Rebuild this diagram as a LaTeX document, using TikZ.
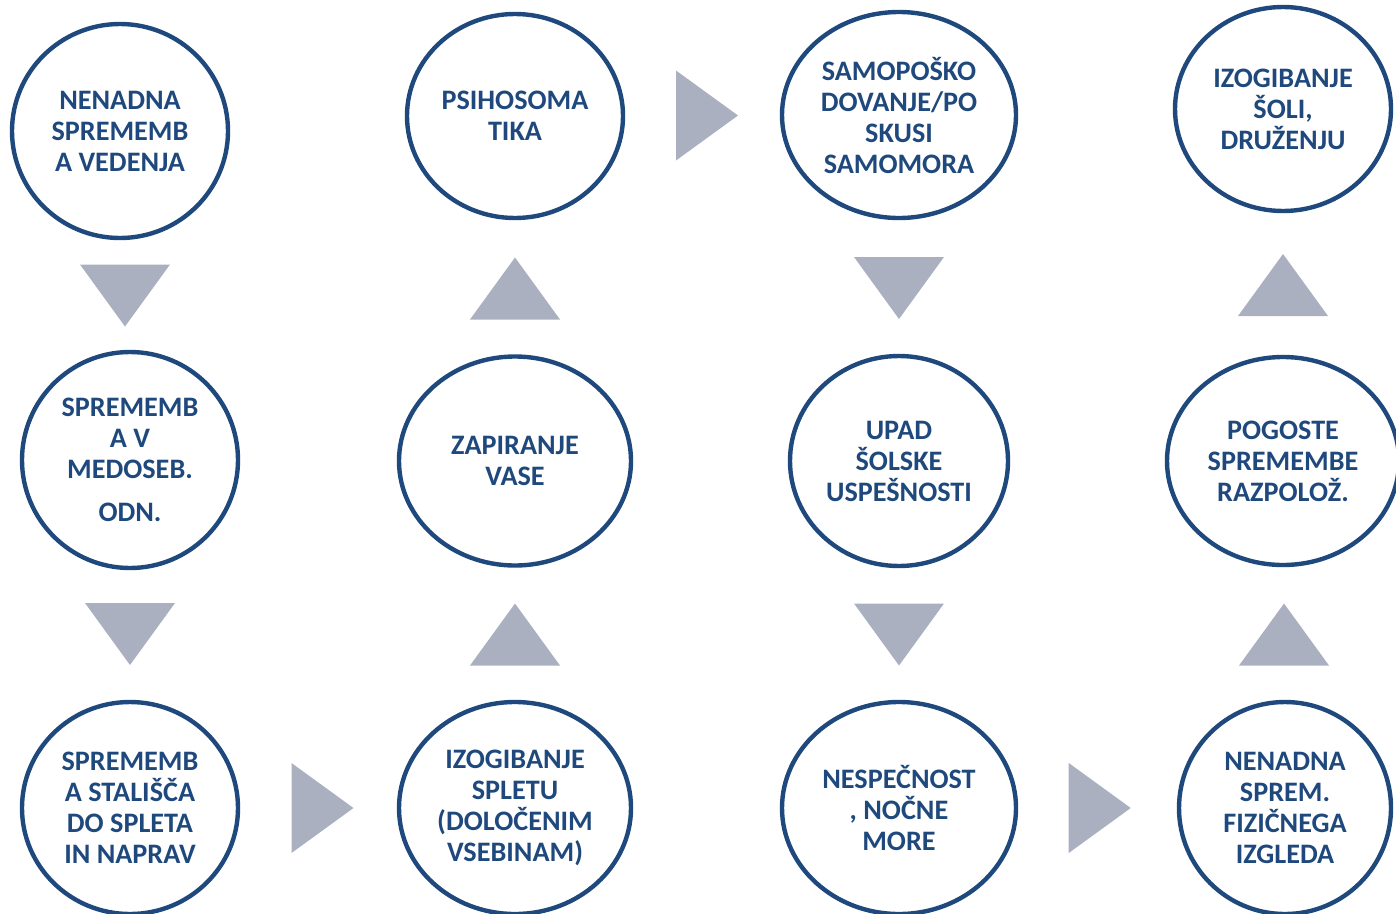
\documentclass[tikz,border=0pt]{standalone}
\usepackage{fontspec}
\setmainfont{Carlito}
\usetikzlibrary{shapes.geometric,calc}
\definecolor{modra}{RGB}{31,73,125}
\definecolor{siva}{RGB}{171,176,193}

\begin{document}
\begin{tikzpicture}[x=1pt, y=-1pt,
		krog/.style 2 args = {shape=ellipse, draw=modra, line width=4.4pt, minimum width=#1pt, minimum height=#2pt,
			inner sep=0pt, align=center, text=modra, font=\fontsize{28.2}{31}\selectfont\bfseries},
		tri/.pic = {\fill[siva] (-31,-45) -- (31,0) -- (-31,45) -- cycle;}]
		\useasboundingbox (0,0) rectangle (1396,913);
		\node[krog={216}{214}] (a1) at (120,131) {NENADNA\\SPREMEMB\\A VEDENJA};
		\node[krog={216}{216}] (a2) at (130,460) {SPREMEMB\\A V\\MEDOSEB.\\[12pt]ODN.};
		\node[krog={216}{212}] (a3) at (130,808) {SPREMEMB\\A STALIŠČA\\DO SPLETA\\IN NAPRAV};
		\node[krog={232}{212}] (b3) at (515,808) {IZOGIBANJE\\SPLETU\\(DOLOČENIM\\VSEBINAM)};
		\node[krog={232}{209}] (b2) at (515,461) {ZAPIRANJE\\VASE};
		\node[krog={216}{204}] (b1) at (515,116) {PSIHOSOMA\\TIKA};
		\node[krog={234}{206}] (c1) at (899,115) {SAMOPOŠKO\\DOVANJE/PO\\SKUSI\\SAMOMORA};
		\node[krog={218}{210}] (c2) at (899,461) {UPAD\\ŠOLSKE\\USPEŠNOSTI};
		\node[krog={234}{212}] (c3) at (899,808) {NESPEČNOST\\, NOČNE\\MORE};
		\node[krog={212}{212}] (d3) at (1285,808) {NENADNA\\SPREM.\\FIZIČNEGA\\IZGLEDA};
		\node[krog={232}{208}] (d2) at (1283,461) {POGOSTE\\SPREMEMBE\\RAZPOLOŽ.};
		\node[krog={216}{204}] (d1) at (1283,109) {IZOGIBANJE\\ŠOLI,\\DRUŽENJU};

		\pic[rotate=-90] at ($(a1)!0.5!(a2)$) {tri};
		\pic[rotate=-90] at ($(a2)!0.5!(a3)$) {tri};
		\pic at ($(a3)!0.5!(b3)$) {tri};
		\pic[rotate=90] at ($(b3)!0.5!(b2)$) {tri};
		\pic[rotate=90] at ($(b2)!0.5!(b1)$) {tri};
		\pic at ($(b1)!0.5!(c1)$) {tri};
		\pic[rotate=-90] at ($(c1)!0.5!(c2)$) {tri};
		\pic[rotate=-90] at ($(c2)!0.5!(c3)$) {tri};
		\pic at ($(c3)!0.52!(d3)$) {tri};
		\pic[rotate=90] at ($(d3)!0.5!(d2)$) {tri};
		\pic[rotate=90] at ($(d2)!0.5!(d1)$) {tri};
	\end{tikzpicture}
\end{document}
